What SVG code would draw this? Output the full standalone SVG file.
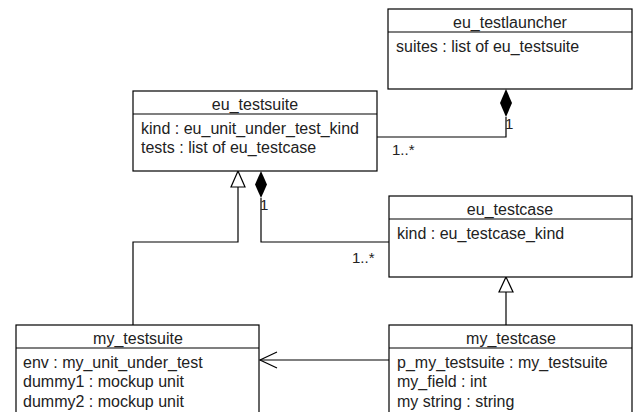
<svg xmlns="http://www.w3.org/2000/svg" width="634" height="412" viewBox="0 0 634 412">
<style>
.box{fill:#fff;stroke:#000;stroke-width:1.2}
.sep{stroke:#000;stroke-width:1.2}
.t{font-family:"Liberation Sans",Arial,sans-serif;font-size:16px;fill:#222}
.m{font-size:15px}
.c{text-anchor:middle}
.ln{fill:none;stroke:#000;stroke-width:1.2}
</style>
<rect width="634" height="412" fill="#fff"/>
<g id="connectors">
<!-- launcher - testsuite composition -->
<path class="ln" d="M506,117 L506,137 L377,137"/>
<path d="M506,89 L512,103 L506,117 L500,103 Z" fill="#000"/>
<text class="t m" x="505" y="129">1</text>
<text class="t m" x="392" y="155">1..*</text>
<!-- testsuite - testcase composition -->
<path class="ln" d="M261,198 L261,242 L389,242"/>
<path d="M261,171 L267,184.5 L261,198 L255,184.5 Z" fill="#000"/>
<text class="t m" x="260" y="210">1</text>
<text class="t m" x="352" y="263">1..*</text>
<!-- my_testsuite inherits eu_testsuite -->
<path class="ln" d="M133,325 L133,242 L238,242 L238,187"/>
<path d="M238,171 L245,187 L231,187 Z" fill="#fff" stroke="#000" stroke-width="1.2"/>
<!-- my_testcase inherits eu_testcase -->
<path class="ln" d="M506,325 L506,292"/>
<path d="M506,277 L513,292 L499,292 Z" fill="#fff" stroke="#000" stroke-width="1.2"/>
<!-- association my_testcase -> my_testsuite -->
<path class="ln" d="M389,360 L260,360"/>
<path class="ln" d="M277,352 L260,360 L277,368"/>
</g>
<g id="eu_testlauncher">
<rect class="box" x="388" y="9" width="244" height="80"/>
<line class="sep" x1="388" y1="32" x2="632" y2="32"/>
<text class="t c" x="510" y="28">eu_testlauncher</text>
<text class="t" x="396" y="52">suites : list of eu_testsuite</text>
</g>
<g id="eu_testsuite">
<rect class="box" x="133" y="91" width="244" height="80"/>
<line class="sep" x1="133" y1="114" x2="377" y2="114"/>
<text class="t c" x="255" y="110">eu_testsuite</text>
<text class="t" x="141" y="134">kind : eu_unit_under_test_kind</text>
<text class="t" x="141" y="153">tests : list of eu_testcase</text>
</g>
<g id="eu_testcase">
<rect class="box" x="389" y="196" width="243" height="81"/>
<line class="sep" x1="389" y1="219" x2="632" y2="219"/>
<text class="t c" x="510" y="215">eu_testcase</text>
<text class="t" x="397" y="239">kind : eu_testcase_kind</text>
</g>
<g id="my_testsuite">
<rect class="box" x="16" y="325" width="243" height="100"/>
<line class="sep" x1="16" y1="348" x2="259" y2="348"/>
<text class="t c" x="138" y="344">my_testsuite</text>
<text class="t" x="23" y="368">env : my_unit_under_test</text>
<text class="t" x="23" y="387">dummy1 : mockup unit</text>
<text class="t" x="23" y="407">dummy2 : mockup unit</text>
</g>
<g id="my_testcase">
<rect class="box" x="389" y="325" width="243" height="100"/>
<line class="sep" x1="389" y1="348" x2="632" y2="348"/>
<text class="t c" x="511" y="344">my_testcase</text>
<text class="t" x="397" y="368">p_my_testsuite : my_testsuite</text>
<text class="t" x="397" y="387">my_field : int</text>
<text class="t" x="397" y="407">my string : string</text>
</g>
</svg>
